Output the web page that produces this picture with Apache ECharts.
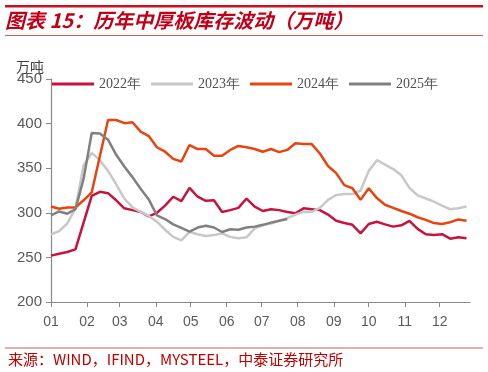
<!DOCTYPE html>
<html>
<head>
<meta charset="utf-8">
<script src="https://cdn.jsdelivr.net/npm/echarts@6/dist/echarts.min.js"></script>
<style>
html,body{margin:0;padding:0;background:#fff;}
#c{width:488px;height:372px;}
</style>
</head>
<body>
<div id="c"></div>
<script>
// x positions: day of year (weekly observations)
const days = [0,7,14,21,28,35,42,49,56,63,70,77,84,91,98,105,112,119,126,133,140,147,154,161,168,175,182,189,196,203,210,217,224,231,238,245,252,259,266,273,280,287,294,301,308,315,322,329,336,343,350,357];
const monthDays = [0,31,59,90,120,151,181,212,243,273,304,334];
const monthLabels = ['01','02','03','04','05','06','07','08','09','10','11','12'];
const seriesNames = ['2022年','2023年','2024年','2025年'];
const y2022 = [252,254,256,259,null,319,323.5,322,314,305,303,301,296,300,308,318,313,328,318,313.5,314,301,303,305.5,316,307,302,304,303,301,299.5,305,304,303,298,291,288.5,286.5,277,287.5,290,287,284.5,286,291,282,276,275,276,271,272.5,271.5];
const y2023 = [276,279.5,288,305,353,367,359,347,332,316,306,301,296.5,290,281,273,269,278.5,276,274,275,277,273,271.5,272.5,282.5,286,288,291,294,298,301,301,305.5,314.5,320,321,321,325,347,359,354,349,342,328,319.5,316,312.5,308,304,305,307];
const y2024 = [307,304.5,306,306,314,323,null,404,404,400.5,401.5,391,386,373.5,368.5,360.5,357.5,376,371.5,371.5,364,364,370.5,375,373.5,371.5,368.5,371.5,368,370.5,378,377,377,366.5,352.5,344.5,331,327.5,314.5,327.5,316.5,309,305.5,302,299,295,292,288.5,287.5,289.5,292.5,291];
const y2025 = [297,301.5,299,304,338,389.5,389,382,365,352,340,327,315,297,293,287,283,279,283.5,285.5,283.5,278.5,281.5,281,283.5,284.5,286.5,289,291,293];
const yTicks = [200,250,300,350,400,450];
const colors = ['#C8133F','#C8C8C8','#E8440F','#808080'];

function pairs(vals){ return vals.map((v,i)=>[days[i], v]); }
const allVals = [y2022,y2023,y2024,y2025];

const chart = echarts.init(document.getElementById('c'), null, {renderer:'canvas'});
const option = {
  backgroundColor:'#fff',
  animation:false,
  title:{
    text:'图表 15：历年中厚板库存波动（万吨）',
    left:5, top:10, padding:0,
    textStyle:{fontFamily:'Noto Sans CJK SC', fontSize:20, fontStyle:'italic', fontWeight:'bold', color:'#C00018'}
  },
  graphic:[
    {type:'rect', shape:{x:5,y:5,width:478,height:2.5}, style:{fill:'#C8101E'}},
    {type:'rect', shape:{x:5,y:35,width:478,height:1}, style:{fill:'#D65A5A'}},
    {type:'rect', shape:{x:5,y:347.5,width:478,height:1}, style:{fill:'#D65A5A'}},
    {type:'text', left:16, top:60, style:{text:'万吨', font:'14px "Noto Sans CJK SC"', fill:'#404040'}},
    {type:'text', left:8, top:352, style:{text:'来源：WIND，IFIND，MYSTEEL，中泰证券研究所', font:'15px "Noto Sans CJK SC"', fill:'#C00000'}}
  ],
  legend:{
    data:seriesNames, left:47, top:72, icon:'rect', itemWidth:42, itemHeight:3, itemGap:10,
    textStyle:{fontFamily:'Liberation Serif', fontSize:14, color:'#505050'}
  },
  grid:{left:51, right:18, top:79, bottom:70},
  xAxis:{
    type:'value', min:0, max:360,
    axisLine:{show:true, lineStyle:{color:'#888', width:1.2}},
    axisTick:{show:true, customValues:monthDays, length:5, lineStyle:{color:'#888'}},
    axisLabel:{customValues:monthDays, margin:13, fontFamily:'Liberation Sans', fontSize:14, color:'#595959',
      formatter:function(v){const i=monthDays.indexOf(v); return i>=0?monthLabels[i]:'';}},
    splitLine:{show:false}
  },
  yAxis:{
    type:'value', min:yTicks[0], max:yTicks[yTicks.length-1], interval:50,
    axisLine:{show:true, lineStyle:{color:'#888', width:1.2}},
    axisTick:{show:true, length:5, lineStyle:{color:'#888'}},
    axisLabel:{margin:9, fontFamily:'Liberation Sans', fontSize:15, color:'#595959'},
    splitLine:{show:false}
  },
  series: seriesNames.map((n,i)=>({
    name:n, type:'line', data:pairs(allVals[i]), symbol:'none', connectNulls:true,
    lineStyle:{width:2.5, color:colors[i]}, itemStyle:{color:colors[i]}
  }))
};
chart.setOption(option);
</script>
</body>
</html>
